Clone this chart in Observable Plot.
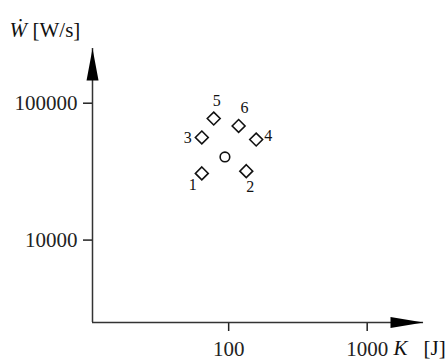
<!DOCTYPE html>
<html>
<head>
<meta charset="utf-8">
<script src="https://cdn.jsdelivr.net/npm/d3@7"></script>
<script src="https://cdn.jsdelivr.net/npm/@observablehq/plot@0.6"></script>
<style>
  html, body { margin: 0; padding: 0; background: #fff; }
  #chart svg { display: block; }
</style>
</head>
<body>
<div id="chart"></div>
<script>
// ---- Data ----
const labels = ["1", "2", "3", "4", "5", "6"];
const kValues = [64, 134, 64, 158, 78, 118];          // K [J]
const wValues = [30700, 31900, 56200, 54300, 77300, 68200]; // W-dot [W/s]
const circleK = [94];
const circleW = [40500];
const xTicks = [100, 1000];
const yTicks = [10000, 100000];
const xDomain = [10.4, 2550];
const yDomain = [2500, 251000];

const diamonds = labels.map((l, i) => ({label: l, k: kValues[i], w: wValues[i]}));
const circles = circleK.map((k, i) => ({k, w: circleW[i]}));

// ---- Rendering ----
const font = "'Liberation Serif', 'Times New Roman', serif";
const arrowRight = {draw(ctx) { ctx.moveTo(0, 0); ctx.lineTo(-33, -5.5); ctx.lineTo(-33, 5.5); ctx.closePath(); }};
const arrowUp = {draw(ctx) { ctx.moveTo(0, 0); ctx.lineTo(-6, 32); ctx.lineTo(6, 32); ctx.closePath(); }};
const offsets = {"1": [-9, 11], "2": [4, 16], "3": [-14, 0], "4": [12, -4], "5": [3, -18], "6": [6, -18]};

const plot = Plot.plot({
  width: 448,
  height: 362,
  marginLeft: 92,
  marginRight: 25,
  marginTop: 48,
  marginBottom: 40,
  style: {fontFamily: font, color: "#222", background: "#fff"},
  x: {type: "log", domain: xDomain},
  y: {type: "log", domain: yDomain},
  marks: [
    Plot.axisX(xTicks, {tickSize: 9, tickPadding: 10, fontSize: 21, tickFormat: d => String(d), strokeWidth: 1.5, label: null}),
    Plot.axisY(yTicks, {tickSize: 9, tickPadding: 6, fontSize: 21, tickFormat: d => String(d), strokeWidth: 1.5, label: null}),
    Plot.ruleY([yDomain[0]], {x1: xDomain[0], x2: xDomain[1], stroke: "#333", strokeWidth: 1.5}),
    Plot.ruleX([xDomain[0]], {y1: yDomain[0], y2: yDomain[1], stroke: "#333", strokeWidth: 1.5}),
    Plot.dot([{x: xDomain[1], y: yDomain[0]}], {x: "x", y: "y", symbol: arrowRight, fill: "#000", stroke: "none", r: 5}),
    Plot.dot([{x: xDomain[0], y: yDomain[1]}], {x: "x", y: "y", symbol: arrowUp, fill: "#000", stroke: "none", r: 5}),
    Plot.dot(diamonds, {x: "k", y: "w", symbol: "diamond2", r: 5.8, stroke: "#111", strokeWidth: 1.6, fill: "none"}),
    Plot.dot(circles, {x: "k", y: "w", symbol: "circle", r: 4.8, stroke: "#111", strokeWidth: 1.6, fill: "none"}),
    ...diamonds.map(d => Plot.text([d], {x: "k", y: "w", text: "label", dx: offsets[d.label][0], dy: offsets[d.label][1], fontSize: 16, fill: "#111"})),
    Plot.text(["Ẇ"], {frameAnchor: "top-left", dx: -83, dy: -18, textAnchor: "start", lineAnchor: "middle", fontSize: 21, fontStyle: "italic", fill: "#111"}),
    Plot.text(["[W/s]"], {frameAnchor: "top-left", dx: -60, dy: -18, textAnchor: "start", lineAnchor: "middle", fontSize: 21, fill: "#111"}),
    Plot.text(["K"], {frameAnchor: "bottom-right", dx: -30, dy: 26, textAnchor: "start", lineAnchor: "middle", fontSize: 21, fontStyle: "italic", fill: "#111"}),
    Plot.text(["[J]"], {frameAnchor: "bottom-right", dx: 0, dy: 26, textAnchor: "start", lineAnchor: "middle", fontSize: 21, fill: "#111"})
  ]
});
document.getElementById("chart").appendChild(plot);
</script>
</body>
</html>
